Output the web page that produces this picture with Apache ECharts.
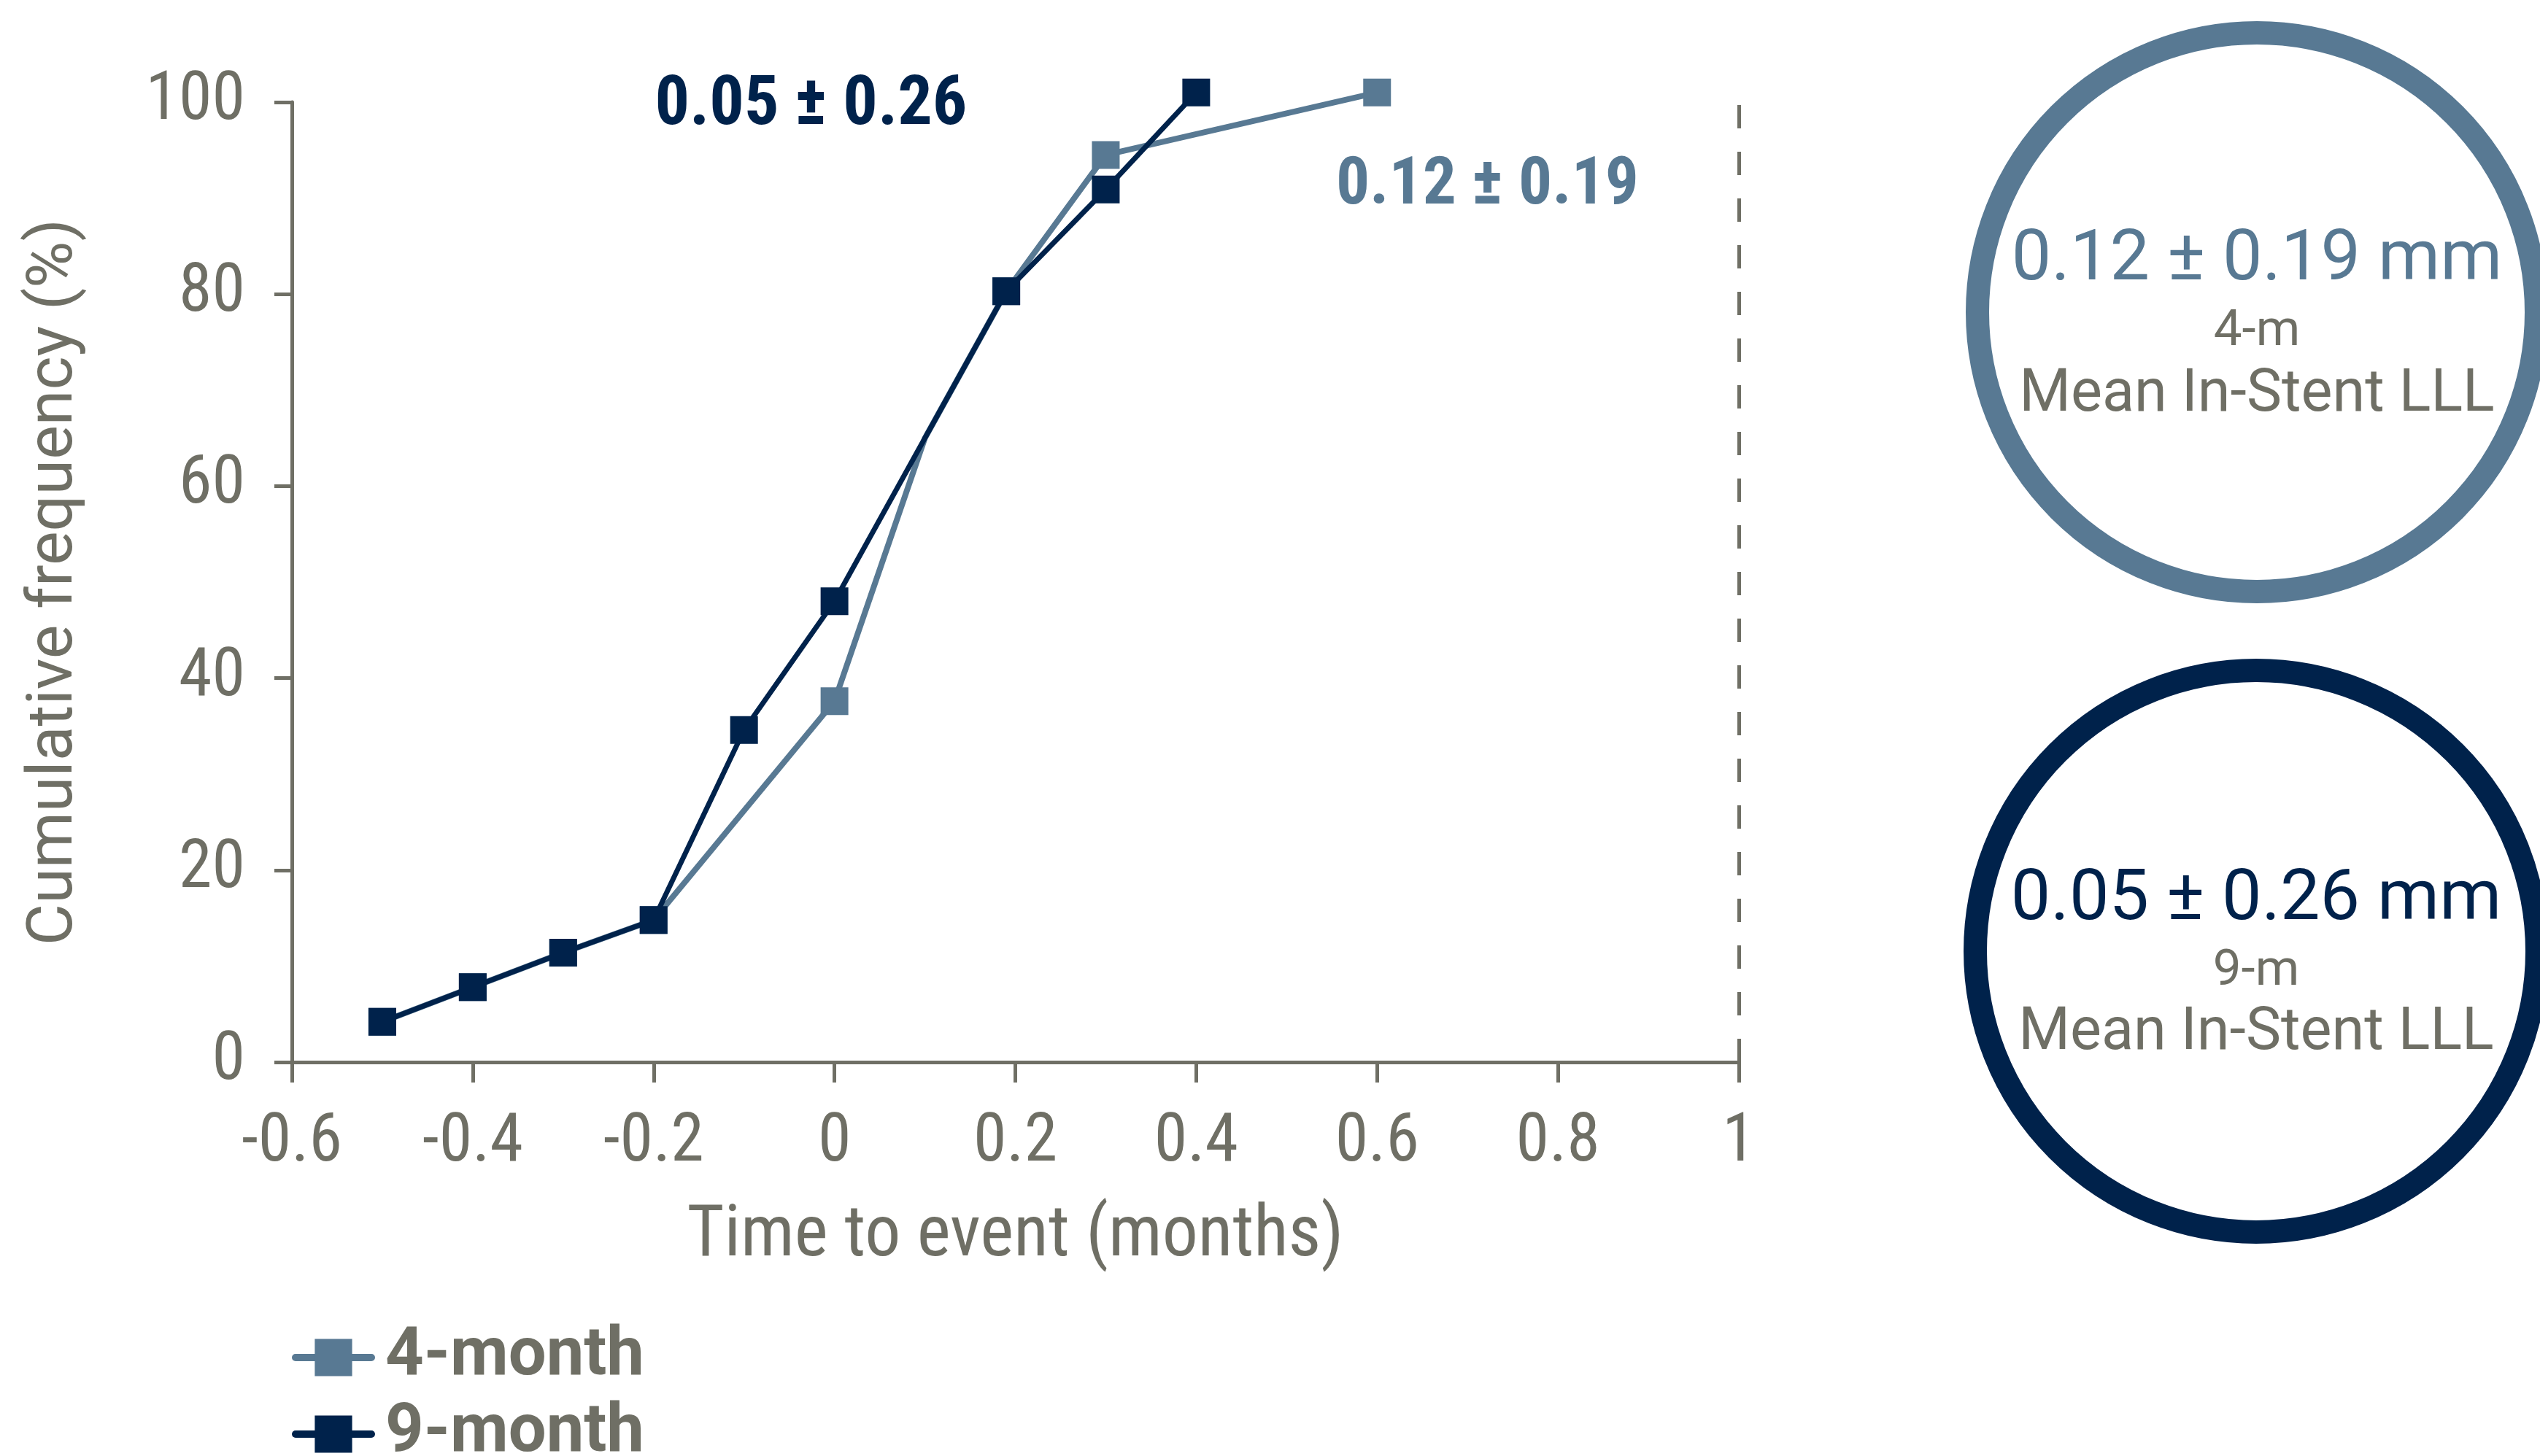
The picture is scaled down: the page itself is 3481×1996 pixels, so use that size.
<!DOCTYPE html>
<html>
<head>
<meta charset="utf-8">
<script src="https://cdn.jsdelivr.net/npm/echarts@6/dist/echarts.min.js"></script>
<style>
html,body{margin:0;padding:0;background:#fff;}
#c{width:3481px;height:1996px;}
</style>
</head>
<body>
<div id="c"></div>
<script>
// ---- data ----
const seriesNames = ['4-month', '9-month'];
const fourMonthX = [-0.5, -0.4, -0.3, -0.2, 0, 0.1, 0.19, 0.3, 0.6];
const fourMonthY = [4.2, 7.8, 11.4, 14.8, 37.6, 65, 80.3, 94.5, 101];
const fourMonthHiddenMarker = [false, false, false, false, false, true, false, false, false];
const nineMonthX = [-0.5, -0.4, -0.3, -0.2, -0.1, 0, 0.19, 0.3, 0.4];
const nineMonthY = [4.2, 7.8, 11.4, 14.8, 34.6, 48.0, 80.3, 90.9, 101];
const xTicks = [-0.6, -0.4, -0.2, 0, 0.2, 0.4, 0.6, 0.8, 1];
const yTicks = [0, 20, 40, 60, 80, 100];
const annotationTexts = ['0.05 ± 0.26', '0.12 ± 0.19'];
const annotationX = [-0.026, 0.722];
const annotationY = [99.5, 91.2];
const circleValues = ['0.12 ± 0.19 mm', '0.05 ± 0.26 mm'];
const circlePeriods = ['4-m', '9-m'];
const circleCaption = 'Mean In-Stent LLL';
const xTitle = 'Time to event (months)';
const yTitle = 'Cumulative frequency (%)';

// ---- styles ----
const SLATE = '#587993';
const NAVY = '#00224b';
const GRAY = '#6f6f65';
const REG = 'Roboto, "Noto Sans", sans-serif';

// pick an installed narrow font
const measureCtx = document.createElement('canvas').getContext('2d');
function textWidth(font, text) { measureCtx.font = font; return measureCtx.measureText(text).width; }
function isInstalled(name) {
  const t = 'mmmWWiil 0.12 ± 0.19';
  for (const base of ['monospace', 'serif']) {
    if (Math.abs(textWidth('100px "' + name + '", ' + base, t) - textWidth('100px ' + base, t)) > 0.5) return true;
  }
  return false;
}
const narrowCandidates = ['Roboto Condensed', 'Liberation Sans Narrow', 'Open Sans Condensed', 'Noto Sans Condensed', 'DejaVu Sans Condensed', 'Roboto'];
let narrowName = 'sans-serif';
for (const n of narrowCandidates) { if (isInstalled(n)) { narrowName = n; break; } }
const NARROW = '"' + narrowName + '", sans-serif';
function fitSize(text, targetW, weight, maxSize) {
  const w = textWidth((weight || 'normal') + ' 100px ' + NARROW, text);
  return Math.min(maxSize, 100 * targetW / w);
}
const tickSize = Math.min(100, fitSize('100', 124, 'normal', 120) * 1.1);
const titleSize = fitSize(xTitle, 900, 'normal', 110);
const annoSize = fitSize(annotationTexts[0], 428, 'bold', 100);

function pairs(xs, ys, hidden) {
  return xs.map((x, i) => {
    const item = { value: [x, ys[i]] };
    if (hidden && hidden[i]) item.symbol = 'none';
    return item;
  });
}

const chart = echarts.init(document.getElementById('c'), null, { renderer: 'canvas' });

const axisLineStyle = { color: GRAY, width: 5 };
const legendBase = {
  orient: 'vertical',
  left: 400,
  padding: 0,
  itemWidth: 104,
  itemHeight: 64,
  lineStyle: { width: 10, cap: 'round' },
  textStyle: { color: GRAY, fontSize: 92, fontWeight: 'bold', fontFamily: REG, padding: [0, 0, 0, 14] }
};

const option = {
  backgroundColor: '#ffffff',
  animation: false,
  grid: { left: 400, right: 1098, top: 140, bottom: 540, containLabel: false },
  legend: [
    Object.assign({}, legendBase, { top: 1815, data: [seriesNames[0]] }),
    Object.assign({}, legendBase, { top: 1920, data: [seriesNames[1]] })
  ],
  xAxis: {
    type: 'value',
    min: xTicks[0],
    max: xTicks[xTicks.length - 1],
    interval: 0.2,
    name: xTitle,
    nameLocation: 'middle',
    nameGap: 192,
    nameTextStyle: { color: GRAY, fontSize: titleSize, fontFamily: NARROW },
    axisLine: { show: true, onZero: false, lineStyle: axisLineStyle },
    axisTick: { show: true, inside: false, length: 28, lineStyle: { color: GRAY, width: 5 } },
    axisLabel: {
      color: GRAY, fontSize: tickSize, fontFamily: NARROW, margin: 66,
      formatter: v => String(Math.round(v * 10) / 10)
    },
    splitLine: { show: false }
  },
  yAxis: {
    type: 'value',
    min: yTicks[0],
    max: yTicks[yTicks.length - 1],
    interval: 20,
    name: yTitle,
    nameLocation: 'middle',
    nameRotate: 90,
    nameGap: 280,
    nameTextStyle: { color: GRAY, fontSize: 88, fontFamily: REG },
    axisLine: { show: true, onZero: false, lineStyle: axisLineStyle },
    axisTick: { show: true, inside: false, length: 24, lineStyle: { color: GRAY, width: 5 } },
    axisLabel: { color: GRAY, fontSize: tickSize, fontFamily: NARROW, margin: 64 },
    splitLine: { show: false }
  },
  series: [
    {
      name: seriesNames[0],
      type: 'line',
      clip: false,
      symbol: 'rect',
      symbolSize: 38,
      z: 2,
      itemStyle: { color: SLATE },
      lineStyle: { color: SLATE, width: 8, cap: 'round' },
      data: pairs(fourMonthX, fourMonthY, fourMonthHiddenMarker),
      markPoint: {
        symbol: 'rect', symbolSize: 1,
        itemStyle: { color: 'rgba(0,0,0,0)' },
        label: { show: true, position: 'inside', color: SLATE, fontSize: annoSize * 0.97, fontWeight: 'bold', fontFamily: NARROW, formatter: p => p.name },
        data: [{ name: annotationTexts[1], coord: [annotationX[1], annotationY[1]] }]
      },
      markLine: {
        silent: true,
        symbol: 'none',
        label: { show: false },
        lineStyle: { color: GRAY, width: 5, type: [32, 32] },
        data: [{ xAxis: xTicks[xTicks.length - 1] }]
      }
    },
    {
      name: seriesNames[1],
      type: 'line',
      clip: false,
      symbol: 'rect',
      symbolSize: 38,
      z: 3,
      itemStyle: { color: NAVY },
      lineStyle: { color: NAVY, width: 7, cap: 'round' },
      data: pairs(nineMonthX, nineMonthY),
      markPoint: {
        symbol: 'rect', symbolSize: 1,
        itemStyle: { color: 'rgba(0,0,0,0)' },
        label: { show: true, position: 'inside', color: NAVY, fontSize: annoSize, fontWeight: 'bold', fontFamily: NARROW, formatter: p => p.name },
        data: [{ name: annotationTexts[0], coord: [annotationX[0], annotationY[0]] }]
      }
    }
  ],
  graphic: [
    { type: 'circle', shape: { cx: 3093, cy: 428, r: 383 }, style: { fill: '#fff', stroke: SLATE, lineWidth: 32 } },
    { type: 'text', x: 3093, y: 359, style: { text: circleValues[0], fill: SLATE, fontSize: 97, fontFamily: REG, align: 'center', verticalAlign: 'middle' } },
    { type: 'text', x: 3093, y: 456, style: { text: circlePeriods[0], fill: GRAY, fontSize: 69, fontFamily: REG, align: 'center', verticalAlign: 'middle' } },
    { type: 'text', x: 3093, y: 543, style: { text: circleCaption, fill: GRAY, fontSize: 81, fontFamily: REG, align: 'center', verticalAlign: 'middle' } },
    { type: 'circle', shape: { cx: 3092, cy: 1304, r: 385 }, style: { fill: '#fff', stroke: NAVY, lineWidth: 32 } },
    { type: 'text', x: 3092, y: 1236, style: { text: circleValues[1], fill: NAVY, fontSize: 97, fontFamily: REG, align: 'center', verticalAlign: 'middle' } },
    { type: 'text', x: 3092, y: 1333, style: { text: circlePeriods[1], fill: GRAY, fontSize: 69, fontFamily: REG, align: 'center', verticalAlign: 'middle' } },
    { type: 'text', x: 3092, y: 1418, style: { text: circleCaption, fill: GRAY, fontSize: 81, fontFamily: REG, align: 'center', verticalAlign: 'middle' } }
  ]
};

chart.setOption(option);
</script>
</body>
</html>
